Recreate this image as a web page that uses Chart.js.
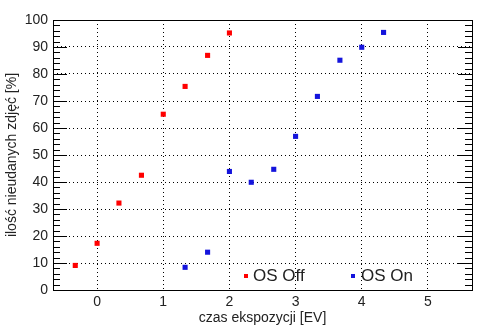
<!DOCTYPE html>
<html>
<head>
<meta charset="utf-8">
<script src="https://cdn.jsdelivr.net/npm/chart.js@4"></script>
<style>
  html, body { margin: 0; padding: 0; background: #fff; }
  #wrap { width: 494px; height: 331px; }
</style>
</head>
<body>
<div id="wrap"><canvas id="chart" width="494" height="331"></canvas></div>
<script>
// exposure time [EV] and share of failed shots [%]
const offX = [-0.33, 0, 0.33, 0.67, 1, 1.33, 1.67, 2];
const offY = [9.1, 17.3, 32.2, 42.5, 65.1, 75.4, 86.9, 95.2];
const onX = [1.33, 1.67, 2, 2.33, 2.67, 3, 3.33, 3.67, 4, 4.33];
const onY = [8.4, 14.0, 43.9, 39.9, 44.7, 56.9, 71.7, 85.1, 89.9, 95.4];
const xTicks = [0, 1, 2, 3, 4, 5];
const seriesLabels = ['OS Off', 'OS On'];
const seriesColors = ['#ff0000', '#1414dc'];

const FONT = 'Arial, "Liberation Sans", sans-serif';

function toPoints(xs, ys) {
    return xs.map((x, i) => ({ x: x, y: ys[i] }));
}

// box, inward ticks on left/right axis, legend inside the plot
const framePlugin = {
    id: 'frame',
    afterDraw(chart) {
        const ctx = chart.ctx;
        const a = chart.chartArea;
        const y = chart.scales.y;
        ctx.save();
        ctx.strokeStyle = '#000';
        ctx.lineWidth = 1;
        ctx.strokeRect(Math.round(a.left) + 0.5, Math.round(a.top) + 0.5,
            Math.round(a.right - a.left), Math.round(a.bottom - a.top));
        ctx.beginPath();
        for (let v = 0; v <= 100; v += 2) {
            const py = Math.round(y.getPixelForValue(v)) + 0.5;
            const len = v % 10 === 0 ? 14 : 7;
            ctx.moveTo(a.left, py);
            ctx.lineTo(a.left + len, py);
            ctx.moveTo(a.right, py);
            ctx.lineTo(a.right - len, py);
        }
        ctx.stroke();

        // legend
        const legendX = [244, 351];
        const legendY = 276;
        ctx.font = '17px ' + FONT;
        ctx.textBaseline = 'middle';
        ctx.textAlign = 'left';
        chart.data.datasets.forEach((ds, i) => {
            ctx.fillStyle = ds.backgroundColor;
            ctx.fillRect(legendX[i], legendY - 2, 4, 4);
            ctx.fillStyle = '#222';
            ctx.fillText(ds.label, legendX[i] + (i === 0 ? 9 : 10), legendY);
        });
        ctx.restore();
    }
};

new Chart(document.getElementById('chart'), {
    type: 'scatter',
    data: {
        datasets: [{
            label: seriesLabels[0],
            data: toPoints(offX, offY),
            backgroundColor: seriesColors[0],
            borderColor: seriesColors[0],
            pointStyle: 'rect',
            pointRadius: 3.6,
            borderWidth: 0
        }, {
            label: seriesLabels[1],
            data: toPoints(onX, onY),
            backgroundColor: seriesColors[1],
            borderColor: seriesColors[1],
            pointStyle: 'rect',
            pointRadius: 3.6,
            borderWidth: 0
        }]
    },
    options: {
        responsive: false,
        animation: false,
        devicePixelRatio: 1,
        layout: { padding: { top: 20, right: 22, left: 0, bottom: 0 } },
        plugins: {
            legend: { display: false },
            tooltip: { enabled: false }
        },
        scales: {
            x: {
                type: 'linear',
                min: -2 / 3,
                max: 17 / 3,
                afterBuildTicks: s => { s.ticks = xTicks.map(v => ({ value: v })); },
                afterFit: s => { s.height = 41; },
                grid: { color: '#000', drawTicks: false, lineWidth: 1 },
                border: { display: false, dash: [1, 3] },
                ticks: { color: '#222', font: { family: FONT, size: 14 }, padding: 4, maxRotation: 0 },
                title: {
                    display: true,
                    text: 'czas ekspozycji [EV]',
                    color: '#222',
                    font: { family: FONT, size: 14 },
                    padding: { top: 0, bottom: 4 }
                }
            },
            y: {
                min: 0,
                max: 100,
                afterFit: s => { s.width = 53; },
                grid: { color: '#000', drawTicks: false, lineWidth: 1 },
                border: { display: false, dash: [1, 3] },
                ticks: { stepSize: 10, color: '#222', font: { family: FONT, size: 14 }, padding: 5 },
                title: {
                    display: true,
                    text: 'ilość nieudanych zdjęć [%]',
                    color: '#222',
                    font: { family: FONT, size: 14 },
                    padding: { top: 4, bottom: 0 }
                }
            }
        }
    },
    plugins: [framePlugin]
});
</script>
</body>
</html>
